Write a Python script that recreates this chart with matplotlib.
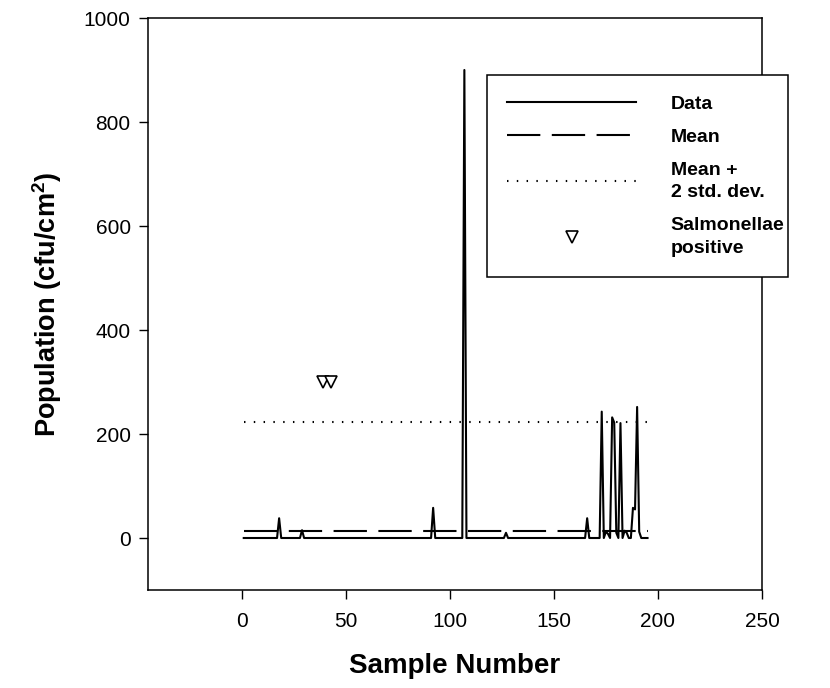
import numpy as np
import matplotlib
matplotlib.use("Agg")
import matplotlib.pyplot as plt

plt.rcParams['font.family'] = ['Liberation Sans', 'DejaVu Sans']
plt.rcParams['mathtext.fontset'] = 'custom'
plt.rcParams['mathtext.rm'] = 'Liberation Sans'
plt.rcParams['mathtext.bf'] = 'Liberation Sans:bold'

# samples 1..195, population is zero except at these samples
n_samples = 195
spike_samples = [18, 29, 92, 107, 127, 166, 173, 175, 176, 178, 179, 180, 182,
                 184, 185, 188, 189, 190, 191]
spike_values = [38, 15, 58, 900, 10, 38, 243, 12, 8, 232, 222, 10, 221,
                14, 10, 58, 55, 252, 12]

mean_value = 14
mean_2sd_value = 223

salmonella_samples = [39, 43]
salmonella_values = [300, 300]

samples = np.arange(1, n_samples + 1)
population = np.zeros(n_samples)
population[np.array(spike_samples) - 1] = spike_values

fig = plt.figure(figsize=(8.3, 6.88), dpi=100)
ax = fig.add_axes([148/830, 1 - 590/688, (762 - 148)/830, (590 - 18)/688])

ax.plot(samples, population, color='black', lw=1.5, label='Data')
ax.plot([samples[0], samples[-1]], [mean_value, mean_value], color='black',
        lw=1.5, dashes=(16, 5.5), label='Mean')
ax.plot([samples[0], samples[-1]], [mean_2sd_value, mean_2sd_value], color='black',
        lw=1.5, dashes=(0.7, 4.0), label='Mean +\n2 std. dev.')
ax.plot(salmonella_samples, salmonella_values, ls='none', marker='v', ms=9,
        mfc='white', mec='black', mew=1.2, label='Salmonellae\npositive')

ax.set_xlim(-45, 250)
ax.set_ylim(-100, 1000)
ax.set_xticks([0, 50, 100, 150, 200, 250])
ax.set_yticks([0, 200, 400, 600, 800, 1000])
ax.tick_params(axis='both', direction='out', length=6.5, width=1.0, labelsize=15)
ax.tick_params(axis='x', pad=9)
ax.tick_params(axis='y', pad=6)
for s in ax.spines.values():
    s.set_linewidth(1.1)

ax.set_xlabel('Sample Number', fontsize=20, fontweight='bold', labelpad=16)
ax.set_ylabel(r'Population (cfu/cm$^\mathbf{2}$)', fontsize=19.5, fontweight='bold',
              labelpad=14)

# legend box spans x 487..788 px, top at 75 px
leg = ax.legend(loc='upper left', mode='expand',
                bbox_to_anchor=(487/830, 1 - 278/688, 301/830, 203/688),
                bbox_transform=fig.transFigure, borderaxespad=0, fancybox=False,
                framealpha=1, edgecolor='black', prop={'weight': 'bold', 'size': 14},
                handlelength=6.6, handletextpad=1.8, labelspacing=0.8, borderpad=1.05)
for t in leg.get_texts():
    t.set_linespacing(1.44)
leg.get_frame().set_linewidth(1.1)
leg.set_zorder(5)

fig.savefig('out.png', dpi=100)
